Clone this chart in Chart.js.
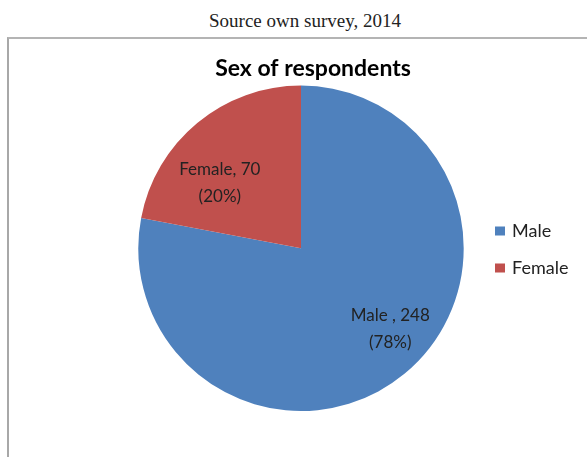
<!DOCTYPE html>
<html>
<head>
<meta charset="utf-8">
<script src="https://cdn.jsdelivr.net/npm/chart.js@4.4.0/dist/chart.umd.min.js"></script>
<style>
  html, body { margin: 0; padding: 0; background: #fff; overflow: hidden; }
  body { width: 587px; height: 457px; position: relative; }
  #caption {
    position: absolute; left: 0; width: 610px; top: 9px; line-height: 24px;
    text-align: center; font-family: "Liberation Serif", serif; font-size: 19px; color: #222;
  }
  #frame {
    position: absolute; left: 7px; top: 37px; width: 600px; height: 440px;
    border-top: 2px solid #b4b4b4; border-left: 2px solid #a8a8a8;
  }
  #pie { position: absolute; left: 9px; top: 39px; }
</style>
</head>
<body>
<div id="caption">Source own survey, 2014</div>
<div id="frame"></div>
<canvas id="pie" width="578" height="418"></canvas>
<script>
const categories = ["Male", "Female"];
const counts = [248, 70];
const percentLabels = ["78%", "20%"];
const sliceNames = ["Male ", "Female"];
const sliceColors = ["#4F81BD", "#C0504D"];

const FONT = "Lato, 'Open Sans', sans-serif";

// the title sits a bit right of the pie centre in the original
const titleShift = {
  id: "titleShift",
  afterLayout(chart, args, opts) {
    if (chart.titleBlock) {
      chart.titleBlock.left += opts.dx;
      chart.titleBlock.right += opts.dx;
    }
  },
};

// text inside the slices
const sliceLabelPlugin = {
  id: "sliceLabels",
  afterDatasetsDraw(chart, args, opts) {
    const { ctx } = chart;
    const arcs = chart.getDatasetMeta(0).data;
    ctx.save();
    ctx.font = "17px " + FONT;
    ctx.fillStyle = "#222";
    ctx.textAlign = "center";
    ctx.textBaseline = "middle";
    arcs.forEach((arc, i) => {
      const p = opts.place[i];
      const mid = (arc.startAngle + arc.endAngle) / 2 + (p.angle * Math.PI) / 180;
      const r = arc.outerRadius * p.dist;
      const x = arc.x + Math.cos(mid) * r;
      const y = arc.y + Math.sin(mid) * r;
      ctx.fillText(sliceNames[i] + ", " + counts[i], x, y - 13.5);
      ctx.fillText("(" + percentLabels[i] + ")", x, y + 13.5);
    });
    ctx.restore();
  },
};

// legend on the right, Excel style
const sideLegendPlugin = {
  id: "sideLegend",
  afterDraw(chart, args, opts) {
    const { ctx } = chart;
    ctx.save();
    ctx.font = "18px " + FONT;
    ctx.textBaseline = "middle";
    categories.forEach((name, i) => {
      const y = opts.top + i * opts.gap;
      ctx.fillStyle = sliceColors[i];
      ctx.fillRect(opts.left, y - 4.5, 10, 9);
      ctx.fillStyle = "#222";
      ctx.fillText(name, opts.left + 17, y);
    });
    ctx.restore();
  },
};

new Chart(document.getElementById("pie"), {
  type: "pie",
  data: {
    labels: categories,
    datasets: [
      {
        data: counts,
        backgroundColor: sliceColors,
        borderWidth: 0,
      },
    ],
  },
  options: {
    responsive: false,
    animation: false,
    layout: { padding: { top: 8, bottom: 46, left: 125, right: 119 } },
    plugins: {
      legend: { display: false },
      tooltip: { enabled: false },
      title: {
        display: true,
        text: "Sex of respondents",
        color: "#000",
        font: { family: FONT, size: 23, weight: "bold" },
        padding: { top: 8, bottom: 3 },
      },
      titleShift: { dx: 12 },
      sliceLabels: {
        place: [
          { angle: -8.1, dist: 0.741 },
          { angle: -11.7, dist: 0.639 },
        ],
      },
      sideLegend: { left: 486, top: 192, gap: 37 },
    },
  },
  plugins: [titleShift, sliceLabelPlugin, sideLegendPlugin],
});
</script>
</body>
</html>
